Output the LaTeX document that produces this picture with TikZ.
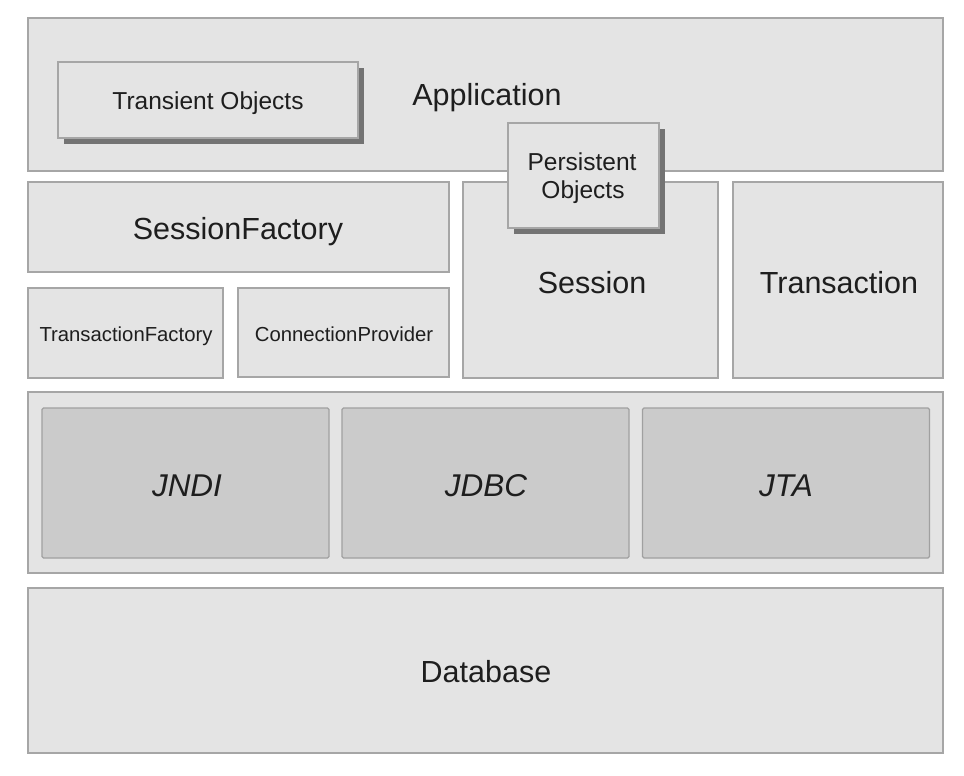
\documentclass[tikz,border=0pt]{standalone}
\usepackage{fontspec}
\setmainfont{Liberation Sans}
\usetikzlibrary{shadows}
\definecolor{boxfill}{HTML}{E4E4E4}
\definecolor{boxline}{HTML}{A6A6A6}
\definecolor{innerfill}{HTML}{CBCBCB}
\definecolor{innerline}{HTML}{A0A0A0}
\definecolor{txt}{HTML}{1E1E1E}
\begin{document}
\begin{tikzpicture}[x=1pt,y=-1pt,
  layer/.style={draw=boxline,fill=boxfill,line width=1.3pt,inner sep=0pt},
  inner/.style={draw=innerline,fill=innerfill,line width=1.3pt,inner sep=0pt,rounded corners=1.5pt},
  objbox/.style={layer,general shadow={shadow xshift=6pt,shadow yshift=-6pt,fill=black!55}},
  lbl/.style={anchor=base,inner sep=0pt,text=txt},
  big/.style={lbl,font=\fontsize{30.5}{34}\selectfont},
  api/.style={lbl,font=\fontsize{31.5}{34}\selectfont\itshape},
  mid/.style={lbl,font=\fontsize{24.5}{29}\selectfont},
  small/.style={lbl,font=\fontsize{20.3}{24}\selectfont}]
\useasboundingbox (0,0) rectangle (964,776);
% Application layer
\node[layer,minimum width=915pt,minimum height=153pt] (app) at (485.5,94.5) {};
\node[big] (applbl) at (487,105) {Application};
\node[objbox,minimum width=300pt,minimum height=76pt] (transient) at (208,100) {};
\node[mid] (transientlbl) at (208,110) {Transient Objects};
% Middle row
\node[layer,minimum width=421pt,minimum height=90pt] (sf) at (238.5,227) {};
\node[big] (sflbl) at (238,239) {SessionFactory};
\node[layer,minimum width=195pt,minimum height=90pt] (tf) at (125.5,333) {};
\node[small] (tflbl) at (126,341) {TransactionFactory};
\node[layer,minimum width=211pt,minimum height=89pt] (cp) at (343.5,332.5) {};
\node[small] (cplbl) at (344,341) {ConnectionProvider};
\node[layer,minimum width=255pt,minimum height=196pt] (session) at (590.5,280) {};
\node[big] (sessionlbl) at (592,293) {Session};
\node[layer,minimum width=210pt,minimum height=196pt] (trans) at (838,280) {};
\node[big] (translbl) at (839,293) {Transaction};
\node[objbox,minimum width=151pt,minimum height=105pt] (persistent) at (583.5,175.5) {};
\node[mid] (perslbla) at (582,170) {Persistent};
\node[mid] (perslblb) at (583,198) {Objects};
% API layer
\node[layer,minimum width=915pt,minimum height=181pt] (api) at (485.5,482.5) {};
\node[inner,minimum width=287pt,minimum height=150pt] (jndi) at (185.5,483) {};
\node[api] (jndilbl) at (187,496) {JNDI};
\node[inner,minimum width=287pt,minimum height=150pt] (jdbc) at (485.5,483) {};
\node[api] (jdbclbl) at (486,496) {JDBC};
\node[inner,minimum width=287pt,minimum height=150pt] (jta) at (786,483) {};
\node[api] (jtalbl) at (786,496) {JTA};
% Database
\node[layer,minimum width=915pt,minimum height=165pt] (db) at (485.5,670.5) {};
\node[big] (dblbl) at (486,682) {Database};
\end{tikzpicture}
\end{document}
